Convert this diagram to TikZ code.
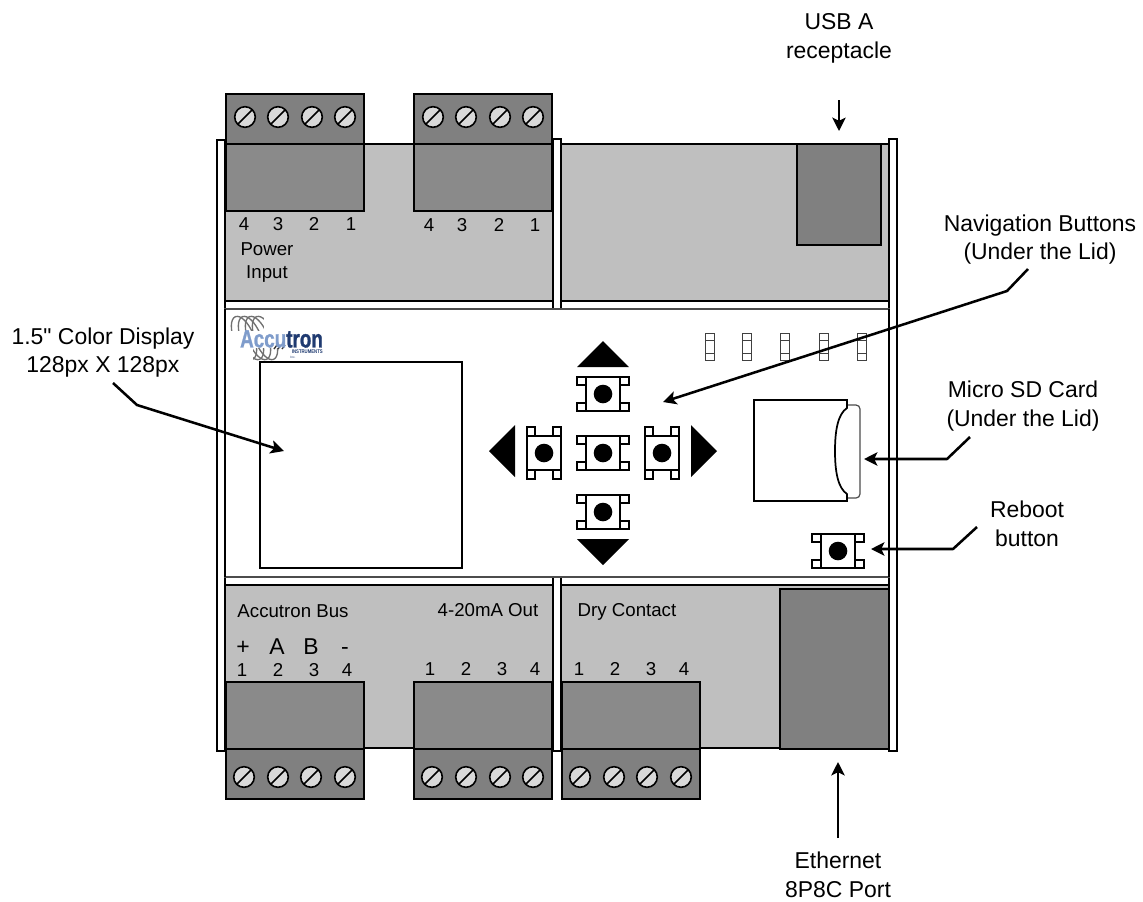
\documentclass[tikz,border=0pt]{standalone}
\usepackage{fontspec}
\setmainfont{Liberation Sans}
\newfontfamily\plainfont{Liberation Sans}
\newfontfamily\logofont[BoldFeatures={FakeBold=1.2}]{Liberation Sans}
\usetikzlibrary{arrows.meta,calc}
\definecolor{panelgrey}{HTML}{BFBFBF}
\definecolor{blockbody}{HTML}{8A8A8A}
\definecolor{blockhead}{HTML}{808080}
\definecolor{screwface}{HTML}{D9D9D9}
\definecolor{logolight}{HTML}{7F9CCB}
\definecolor{logodark}{HTML}{1F3A70}
\definecolor{logoswirl}{HTML}{707070}
\tikzset{
  ln/.style={draw=black,line width=1.5pt},
  thin ln/.style={draw=black,line width=1.1pt},
  rail/.style={draw=black,fill=white,line width=1.4pt},
  panel/.style={fill=panelgrey,draw=black,line width=1.5pt},
  head/.style={fill=blockhead,draw=black,line width=1.5pt},
  body/.style={fill=blockbody,draw=black,line width=1.5pt},
  screw/.style={fill=screwface,draw=black,line width=1.2pt},
  lbl/.style={font=\fontsize{14}{14}\selectfont,inner sep=0pt,text=black},
  biglbl/.style={font=\fontsize{17.2}{21.6}\selectfont,inner sep=0pt,align=center,text=black},
  callout/.style={draw=black,line width=1.9pt,line join=round,-{Stealth[length=10pt,width=10pt,inset=2.4pt]}},
}
\newcommand{\myscrew}[2]{%
  \path[screw] (#1,#2) circle (10.3);
  \draw[line width=1.2pt] ($(#1,#2)+(-7.5,7.5)$) -- ($(#1,#2)+(7.5,-7.5)$);
}
\newcommand{\blocktop}[1]{%
  \path[head] (#1,94) rectangle ++(138,50);
  \path[body] (#1,144) rectangle ++(138,67);
}
\newcommand{\blockbot}[1]{%
  \path[body] (#1,682) rectangle ++(138,67);
  \path[head] (#1,749) rectangle ++(138,50);
}
\newcommand{\mybutton}[3]{%
  \begin{scope}[shift={(#1,#2)},rotate=#3]
    \foreach \sx in {-1,1} \foreach \sy in {-1,1}
      \path[thin ln,fill=white] (\sx*17,\sy*17) rectangle (\sx*26,\sy*9);
    \path[ln,fill=white] (-17,-17) rectangle (17,17);
    \fill[black] (0,0) circle (9.3);
  \end{scope}
}
\newcommand{\myled}[1]{%
  \draw[draw=black!75,line width=0.7pt,fill=white] (#1-4.5,333) rectangle (#1+4.5,360);
  \draw[draw=black!75,line width=0.7pt] (#1-4.5,340) -- (#1+4.5,340) (#1-4.5,353) -- (#1+4.5,353);
}
\begin{document}
\begin{tikzpicture}[x=0.75pt,y=-0.75pt]
\useasboundingbox (0,0) rectangle (1143,901);
% housing
\path[rail] (217,140) rectangle (225,751);
\path[rail] (553,139) rectangle (561,751);
\path[rail] (889,139) rectangle (897,751);
% grey panels
\path[panel] (225,144) rectangle (553,301);
\path[panel] (561,144) rectangle (889,301);
\path[panel] (225,585) rectangle (553,748);
\path[panel] (561,585) rectangle (889,748);
% white strips
\path[draw=black,line width=1.3pt,fill=white] (225,301) rectangle (553,309);
\path[draw=black,line width=1.3pt,fill=white] (561,301) rectangle (889,309);
\path[draw=black,line width=1.3pt,fill=white] (225,577) rectangle (553,585);
\path[draw=black,line width=1.3pt,fill=white] (561,577) rectangle (889,585);
% main white face
\path[draw=black!70,line width=1.2pt,fill=white] (225,309) rectangle (889,577);
\draw[line width=1.4pt] (225,309) -- (225,577) (889,309) -- (889,577);
% terminal blocks
\blocktop{226}\blocktop{414}
\blockbot{226}\blockbot{414}\blockbot{562}
\foreach \x in {245,278,312,345,433,466,500,533} {\myscrew{\x}{117}}
\foreach \x in {244,278,311,345,432,466,500,533,580,614,647,681} {\myscrew{\x}{777}}
% USB and Ethernet
\path[head] (797,144) rectangle (881,245);
\path[head] (780,589) rectangle (889,749);
% logo
\foreach \dx in {0,7,14,21}
  \draw[logoswirl,line width=1pt] (244+\dx,338) ellipse[x radius=10,y radius=23,rotate=22];
\fill[white] (238,331) rectangle (324,348);
\fill[white] (286,348) rectangle (324,355);
\fill[white] (228,331) rectangle (253,362);
\fill[white] (264,313) rectangle (292,331);
\foreach \dx in {0,4,8}
  \draw[black!80,line width=1pt] (274+\dx,349) -- (277+\dx,345);
\node[inner sep=0pt] (logotext) at (281.5,339) {\scalebox{0.76}[1.0]{\fontsize{18.6}{18.6}\selectfont\logofont\bfseries\textcolor{logolight}{Accu}\textcolor{logodark}{tron}}};
\node[inner sep=0pt,anchor=east,text=logodark] (logosub) at (323,352) {\scalebox{0.8}[1.0]{\fontsize{4}{4}\selectfont\bfseries INSTRUMENTS}};
\node[inner sep=0pt,text=logodark] (logoinc) at (293,357) {\fontsize{2.4}{2.4}\selectfont Inc.};
% display
\path[ln,fill=white] (260,362) rectangle (462,568);
% navigation buttons
\mybutton{603}{394}{0}
\mybutton{603}{453}{0}
\mybutton{603}{512}{0}
\mybutton{544}{453}{90}
\mybutton{662}{453}{90}
\mybutton{838}{551}{0}
% direction triangles
\fill (603,341) -- (629,367) -- (577,367) -- cycle;
\fill (603,565) -- (629,539) -- (577,539) -- cycle;
\fill (489,451) -- (515,425) -- (515,477) -- cycle;
\fill (717,451) -- (691,425) -- (691,477) -- cycle;
% LEDs
\myled{710}\myled{747}\myled{785}\myled{824}\myled{862}
% SD card
\draw[draw=black!70,line width=0.9pt,fill=white,rounded corners=3pt] (840,405) -- (860,405) -- (860,498) -- (840,498);
\path[ln,fill=white,line width=1.3pt] (754,400) -- (847,400) -- (847,408) .. controls (838,414) and (835,430) .. (835,451) .. controls (835,472) and (838,488) .. (847,494) -- (847,501) -- (754,501) -- cycle;
% texts on panels
\foreach \t/\x/\y [count=\i] in {4/244/224,3/278/224,2/314/224,1/351/224,4/429/225,3/462/225,2/499/225,1/535/225,
  1/242/670,2/278/670,3/314/670,4/347/670,1/430/669,2/466/669,3/502/669,4/535/669,1/579/669,2/615/669,3/651/669,4/684/669}
  \node[lbl] (num\i) at (\x,\y) {\t};
\node[lbl] (power) at (267,249) {Power};
\node[lbl] (input) at (267,274) {Input};
\node[lbl] (busname) at (293,611) {Accutron Bus};
\node[lbl] (ma) at (488,610) {4-20mA Out};
\node[lbl] (dry) at (627,612) {Dry Contact};
\node[biglbl,anchor=base] (plus) at (243,654) {+};
\node[biglbl,anchor=base] (aa) at (277,654) {A};
\node[biglbl,anchor=base] (bb) at (311,654) {B};
\node[biglbl,anchor=base] (minus) at (345,654) {-};
% callout labels
\node[biglbl] (usb) at (839,38) {USB A\\receptacle};
\node[biglbl] (nav) at (1040,239.5) {Navigation Buttons\\(Under the Lid)};
\node[biglbl] (color) at (103,352.5) {1.5{\plainfont"} Color Display\\128px X 128px};
\node[biglbl] (sd) at (1023,406) {Micro SD Card\\(Under the Lid)};
\node[biglbl] (reboot) at (1027,523.5) {Reboot\\button};
\node[biglbl] (eth) at (838,875) {Ethernet\\8P8C Port};
% connector ends
\coordinate (usbS) at (839,100); \coordinate (usbE) at (839,131);
\coordinate (navS) at (1028,269); \coordinate (navM) at (1007,291); \coordinate (navE) at (663,402);
\coordinate (colS) at (113,383); \coordinate (colM) at (137,405); \coordinate (colE) at (284,451);
\coordinate (sdS) at (970,437); \coordinate (sdM) at (947,459); \coordinate (sdE) at (864,459);
\coordinate (rbS) at (977,527); \coordinate (rbM) at (953,549); \coordinate (rbE) at (871,549);
\coordinate (ethS) at (838,838); \coordinate (ethE) at (838,762);
\draw[callout] (usbS) -- (usbE);
\draw[callout] (navS) -- (navM) -- (navE);
\draw[callout] (colS) -- (colM) -- (colE);
\draw[callout] (sdS) -- (sdM) -- (sdE);
\draw[callout] (rbS) -- (rbM) -- (rbE);
\draw[callout] (ethS) -- (ethE);
\end{tikzpicture}
\end{document}
